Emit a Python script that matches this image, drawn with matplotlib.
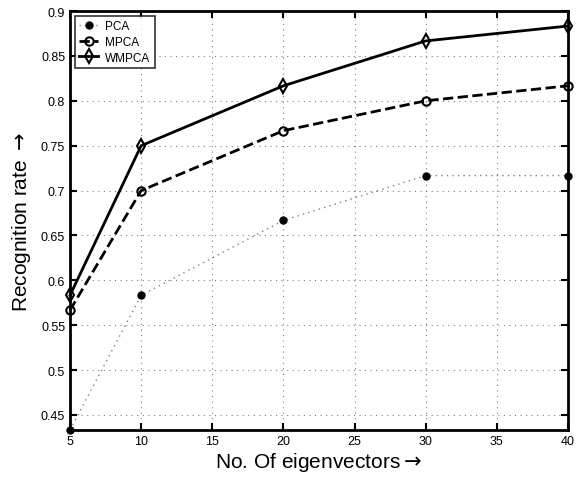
import numpy as np
import matplotlib.pyplot as plt

plt.rcParams['font.family'] = ['Liberation Sans', 'DejaVu Sans']

x = [5, 10, 20, 30, 40]
pca = [0.4333, 0.5833, 0.6667, 0.7167, 0.7167]
mpca = [0.5667, 0.7000, 0.7667, 0.8000, 0.8167]
wmpca = [0.5833, 0.7500, 0.8167, 0.8667, 0.8833]

fig = plt.figure(figsize=(5.81, 4.81), dpi=100)
ax = fig.add_axes([0.1205, 0.104, 0.857, 0.871])

ax.plot(x, pca, color='gray', lw=1, dashes=(1, 3), marker='o', ms=5,
        mfc='black', mec='black', label='PCA', clip_on=False)
ax.plot(x, mpca, '--', color='black', lw=2, marker='o', ms=6, mfc='none', mew=1.5, label='MPCA', clip_on=False)
ax.plot(x, wmpca, '-', color='black', lw=2, marker='d', ms=7, mfc='none', mew=1.5, label='WMPCA', clip_on=False)

ax.set_xlim(5, 40)
ax.set_ylim(0.4333, 0.9)
ax.set_xticks([5, 10, 15, 20, 25, 30, 35, 40])
ax.set_yticks(np.arange(0.45, 0.901, 0.05))
ax.set_yticklabels(['0.45', '0.5', '0.55', '0.6', '0.65', '0.7', '0.75', '0.8', '0.85', '0.9'])
ax.tick_params(direction='in', length=5, width=1.5, labelsize=9, top=True, right=True)
ax.grid(True, color='gray', lw=0.8, dashes=(1, 4))
for s in ax.spines.values():
    s.set_linewidth(2)

ax.set_xlabel(r'No. Of eigenvectors$\rightarrow$', fontsize=15, labelpad=2)
ax.set_ylabel(r'Recognition rate $\rightarrow$', fontsize=15, labelpad=6)

leg = ax.legend(loc='upper left', fontsize=8.5, fancybox=False, edgecolor='black',
                borderpad=0.35, labelspacing=0.3, handlelength=1.6, handletextpad=0.6,
                borderaxespad=0.45)
leg.get_frame().set_linewidth(1.2)

fig.savefig('out.png', dpi=100)
